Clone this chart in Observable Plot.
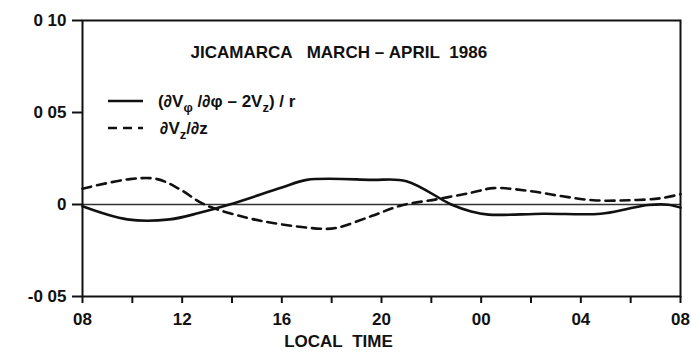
<!DOCTYPE html>
<html>
<head>
<meta charset="utf-8">
<script src="https://cdn.jsdelivr.net/npm/d3@7"></script>
<script src="https://cdn.jsdelivr.net/npm/@observablehq/plot@0.6"></script>
<style>
  html, body { margin: 0; padding: 0; background: #fff; }
  #chart text { white-space: pre; }
</style>
</head>
<body>
<div id="chart"></div>
<script>
// Local time in hours (08 on day 1 = 8, 08 on day 2 = 32)
const solidHours  = [8.0, 9.8, 11.5, 12.7, 13.9, 16.0, 17.0, 19.6, 21.0, 22.8, 23.6, 24.3, 26.5, 28.8, 29.9, 30.7, 31.5, 32.0];
// (dVphi/dphi - 2Vz)/r
const solidValues = [-0.001, -0.0081, -0.0081, -0.0045, 0.0, 0.0092, 0.0134, 0.0134, 0.0127, 0.0, -0.0038, -0.0055, -0.005, -0.005, -0.0023, -0.0003, -0.0001, -0.0017];

const dashHours  = [8.0, 9.9, 11.0, 11.9, 12.9, 14.6, 16.0, 17.6, 18.2, 19.6, 20.8, 22.2, 23.6, 24.5, 25.9, 27.2, 28.5, 29.9, 31.2, 32.0];
// dVz/dz
const dashValues = [0.0086, 0.0138, 0.0138, 0.0083, 0.0, -0.0072, -0.0108, -0.0132, -0.0127, -0.0063, -0.0005, 0.0028, 0.0064, 0.0089, 0.0074, 0.0046, 0.0023, 0.0023, 0.0034, 0.0056];

const xTicks = [8, 10, 12, 14, 16, 18, 20, 22, 24, 26, 28, 30, 32];
const xTickLabels = ["08", "", "12", "", "16", "", "20", "", "00", "", "04", "", "08"];
const yTicks = [-0.05, 0, 0.05, 0.10];
const yTickLabels = ["-0 05", "0", "0 05", "0 10"];

const titleText = "JICAMARCA\u00a0\u00a0\u00a0MARCH\u00a0\u2013\u00a0APRIL\u00a0\u00a01986";
const xLabel = "LOCAL\u00a0\u00a0TIME";

const solid = solidHours.map((h, i) => ({h, v: solidValues[i]}));
const dashed = dashHours.map((h, i) => ({h, v: dashValues[i]}));
const xLabelOf = new Map(xTicks.map((t, i) => [t, xTickLabels[i]]));
const yLabelOf = new Map(yTicks.map((t, i) => [t, yTickLabels[i]]));

const ink = "#111";
const font = "Liberation Sans";

const svg = Plot.plot({
  width: 692,
  height: 356,
  marginTop: 20,
  marginRight: 12,
  marginBottom: 60,
  marginLeft: 82,
  style: {fontFamily: font, fontSize: "17px", fontWeight: "bold", color: ink, background: "#fff"},
  x: {domain: [8, 32]},
  y: {domain: [-0.05, 0.10]},
  marks: [
    Plot.ruleY([0], {stroke: "#333", strokeWidth: 1.6}),
    Plot.line(solid, {x: "h", y: "v", curve: "catmull-rom", stroke: ink, strokeWidth: 2.6}),
    Plot.line(dashed, {x: "h", y: "v", curve: "catmull-rom", stroke: ink, strokeWidth: 2.6, strokeDasharray: "9,6"}),
    Plot.frame({stroke: ink, strokeWidth: 2}),
    Plot.axisX({ticks: xTicks, tickFormat: d => xLabelOf.get(d), tickSize: 7, tickPadding: 9, strokeWidth: 2, label: null, fontSize: 17}),
    Plot.axisY({ticks: yTicks, tickFormat: d => yLabelOf.get(d), tickSize: 10, tickPadding: 6, strokeWidth: 2, label: null, fontSize: 17}),
    Plot.text([titleText], {frameAnchor: "top-left", dx: 108, dy: 25, textAnchor: "start", fontSize: 17, fill: ink}),
    Plot.text([xLabel], {frameAnchor: "bottom", dx: -43, dy: 50, fontSize: 17, fill: ink})
  ]
});

// Legend: line samples with their labels
const g = d3.select(svg).append("g")
  .attr("font-family", font).attr("font-size", 17).attr("font-weight", "bold")
  .attr("fill", ink).attr("text-anchor", "start");
g.append("line").attr("x1", 108).attr("x2", 143).attr("y1", 101).attr("y2", 101)
  .attr("stroke", ink).attr("stroke-width", 2.6);
g.append("line").attr("x1", 108).attr("x2", 143).attr("y1", 128).attr("y2", 128)
  .attr("stroke", ink).attr("stroke-width", 2.6).attr("stroke-dasharray", "9,6");

const t1 = g.append("text").attr("x", 158).attr("y", 107);
t1.append("tspan").text("(\u2202V");
t1.append("tspan").attr("dy", 5).attr("font-size", 13).text("\u03c6");
t1.append("tspan").attr("dy", -5).text("\u00a0/\u2202\u03c6\u00a0\u2013\u00a02V");
t1.append("tspan").attr("dy", 5).attr("font-size", 13).text("z");
t1.append("tspan").attr("dy", -5).text(")\u00a0/\u00a0r");

const t2 = g.append("text").attr("x", 160).attr("y", 134);
t2.append("tspan").text("\u2202V");
t2.append("tspan").attr("dy", 5).attr("font-size", 13).text("z");
t2.append("tspan").attr("dy", -5).text("/\u2202z");

document.getElementById("chart").appendChild(svg);
</script>
</body>
</html>
